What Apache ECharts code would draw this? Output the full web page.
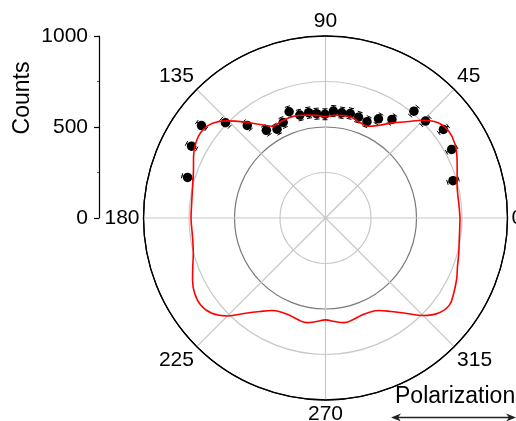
<!DOCTYPE html>
<html>
<head>
<meta charset="utf-8">
<script src="https://cdn.jsdelivr.net/npm/echarts@6/dist/echarts.min.js"></script>
<style>
  html, body { margin: 0; padding: 0; background: #fff; }
  #chart { width: 516px; height: 421px; }
</style>
</head>
<body>
<div id="chart"></div>
<script>
// Measured polarization angles (degrees) and counts with their errors
const pointAngles = [16.3, 28.5, 36.9, 44.1, 50.4, 56.0, 61.9, 66.7, 71.9, 76.7, 81.2, 85.8, 90.3,
                     94.9, 99.1, 104.0, 108.9, 113.9, 118.6, 124.0, 130.2, 136.4, 143.3, 151.8, 163.6];
const pointCounts = [730, 789, 810, 765, 762, 653, 618, 576, 583, 590, 585, 589, 570,
                     575, 586, 583, 617, 574, 556, 581, 666, 759, 850, 835, 790];
const pointErrors = [32, 32, 32, 32, 32, 30, 30, 30, 30, 30, 30, 30, 30,
                     30, 30, 30, 30, 30, 30, 30, 30, 32, 32, 32, 32];

// Fitted curve, sampled every 5 degrees around the full circle
const curveAngles = [0, 5, 10, 15, 20, 25, 30, 35, 40, 45, 50, 55, 60, 65, 70, 75, 80, 85, 90,
                     95, 100, 105, 110, 115, 120, 125, 130, 135, 140, 145, 150, 155, 160, 165, 170, 175, 180,
                     185, 190, 195, 200, 205, 210, 215, 220, 225, 230, 235, 240, 245, 250, 255, 260, 265, 270,
                     275, 280, 285, 290, 295, 300, 305, 310, 315, 320, 325, 330, 335, 340, 345, 350, 355, 360];
const curveCounts = [739, 737, 738, 748, 770, 797, 820, 828, 812, 760, 690, 638, 588, 556, 557, 570, 571, 567, 557,
                     566, 574, 583, 586, 583, 582, 627, 688, 755, 810, 830, 823, 800, 772, 755, 744, 739, 739,
                     737, 740, 752, 776, 806, 830, 836, 815, 762, 683, 627, 587, 571, 570, 579, 584, 571, 560,
                     571, 584, 579, 570, 571, 587, 627, 683, 758, 812, 832, 815, 795, 772, 758, 746, 740, 739];

// Axis labels
const angleTickLabels = ['0', '45', '90', '135', '180', '225', '270', '315'];
const countTickLabels = ['0', '500', '1000'];

const FONT = 'Liberation Sans, Arial, Helvetica, sans-serif';

const chart = echarts.init(document.getElementById('chart'), null, { renderer: 'canvas' });

const pointData = pointAngles.map((a, i) => [pointCounts[i], a, pointErrors[i]]);
const curveData = curveAngles.map((a, i) => [curveCounts[i], a]);

const CAP = 2.6;

chart.setOption({
  animation: false,
  backgroundColor: '#fff',
  textStyle: { fontFamily: FONT },
  polar: { center: [325.5, 218], radius: [0, 182] },
  angleAxis: {
    type: 'value',
    min: 0, max: 360, interval: 45,
    startAngle: 0, clockwise: false,
    axisLine: { show: true, lineStyle: { color: '#000', width: 1.3 } },
    axisTick: { show: false },
    splitLine: { show: true, lineStyle: { color: '#c8c8c8', width: 1.2 } },
    axisLabel: {
      show: true, margin: 4, fontSize: 21, color: '#000', fontFamily: FONT,
      formatter: v => (v >= 360 ? '' : angleTickLabels[Math.round(v / 45)])
    }
  },
  radiusAxis: {
    type: 'value', min: 0, max: 1000, interval: 250,
    axisLine: { show: false }, axisTick: { show: false }, axisLabel: { show: false },
    splitLine: { show: true, lineStyle: { color: ['#000', '#c8c8c8', '#7a7a7a', '#c8c8c8', '#000'], width: 1.2 } }
  },
  grid: { left: 99, top: 36, width: 10, height: 182 },
  xAxis: { type: 'value', show: false, min: 0, max: 1 },
  yAxis: {
    type: 'value', min: 0, max: 1000, interval: 500,
    axisLine: { show: true, lineStyle: { color: '#000', width: 1.2 } },
    axisTick: { show: true, length: 5, lineStyle: { color: '#000', width: 1.2 } },
    minorTick: { show: true, splitNumber: 2, length: 2, lineStyle: { color: '#555' } },
    splitLine: { show: false },
    axisLabel: {
      fontSize: 21, color: '#000', margin: 11, fontFamily: FONT,
      formatter: v => countTickLabels[Math.round(v / 500)]
    }
  },
  series: [
    {
      type: 'custom', coordinateSystem: 'polar',
      encode: { radius: 0, angle: 1 },
      data: pointData, z: 3,
      renderItem: function (params, api) {
        const r = api.value(0), a = api.value(1), e = api.value(2);
        const p1 = api.coord([r - e, a]);
        const p2 = api.coord([r + e, a]);
        const dx = p2[0] - p1[0], dy = p2[1] - p1[1];
        const len = Math.hypot(dx, dy) || 1;
        const nx = -dy / len * CAP, ny = dx / len * CAP;
        const st = { stroke: '#000', lineWidth: 1 };
        return {
          type: 'group',
          children: [
            { type: 'line', shape: { x1: p1[0], y1: p1[1], x2: p2[0], y2: p2[1] }, style: st },
            { type: 'line', shape: { x1: p1[0] - nx, y1: p1[1] - ny, x2: p1[0] + nx, y2: p1[1] + ny }, style: st },
            { type: 'line', shape: { x1: p2[0] - nx, y1: p2[1] - ny, x2: p2[0] + nx, y2: p2[1] + ny }, style: st }
          ]
        };
      }
    },
    {
      type: 'scatter', coordinateSystem: 'polar',
      data: pointData.map(d => [d[0], d[1]]),
      symbol: 'circle', symbolSize: 9.5,
      itemStyle: { color: '#000', opacity: 1 }, z: 4
    },
    {
      type: 'line', coordinateSystem: 'polar',
      data: curveData, smooth: 0.4, showSymbol: false, symbol: 'none',
      lineStyle: { color: '#ff0000', width: 1.6 }, z: 5
    }
  ],
  graphic: [
    {
      type: 'text', x: 23, y: 98, rotation: Math.PI / 2,
      style: { text: 'Counts', fontSize: 23, fill: '#000', fontFamily: FONT, align: 'center', verticalAlign: 'middle' }
    },
    {
      type: 'text', left: 395, top: 385,
      style: { text: 'Polarization', fontSize: 23, fill: '#000', fontFamily: FONT }
    },
    {
      type: 'line', shape: { x1: 394, y1: 417.5, x2: 513, y2: 417.5 },
      style: { stroke: '#222', lineWidth: 1.6 }
    },
    {
      type: 'polygon', shape: { points: [[391, 417.5], [401, 413.5], [398, 417.5], [401, 421.5]] },
      style: { fill: '#222' }
    },
    {
      type: 'polygon', shape: { points: [[516, 417.5], [506, 413.5], [509, 417.5], [506, 421.5]] },
      style: { fill: '#222' }
    }
  ]
});
</script>
</body>
</html>
